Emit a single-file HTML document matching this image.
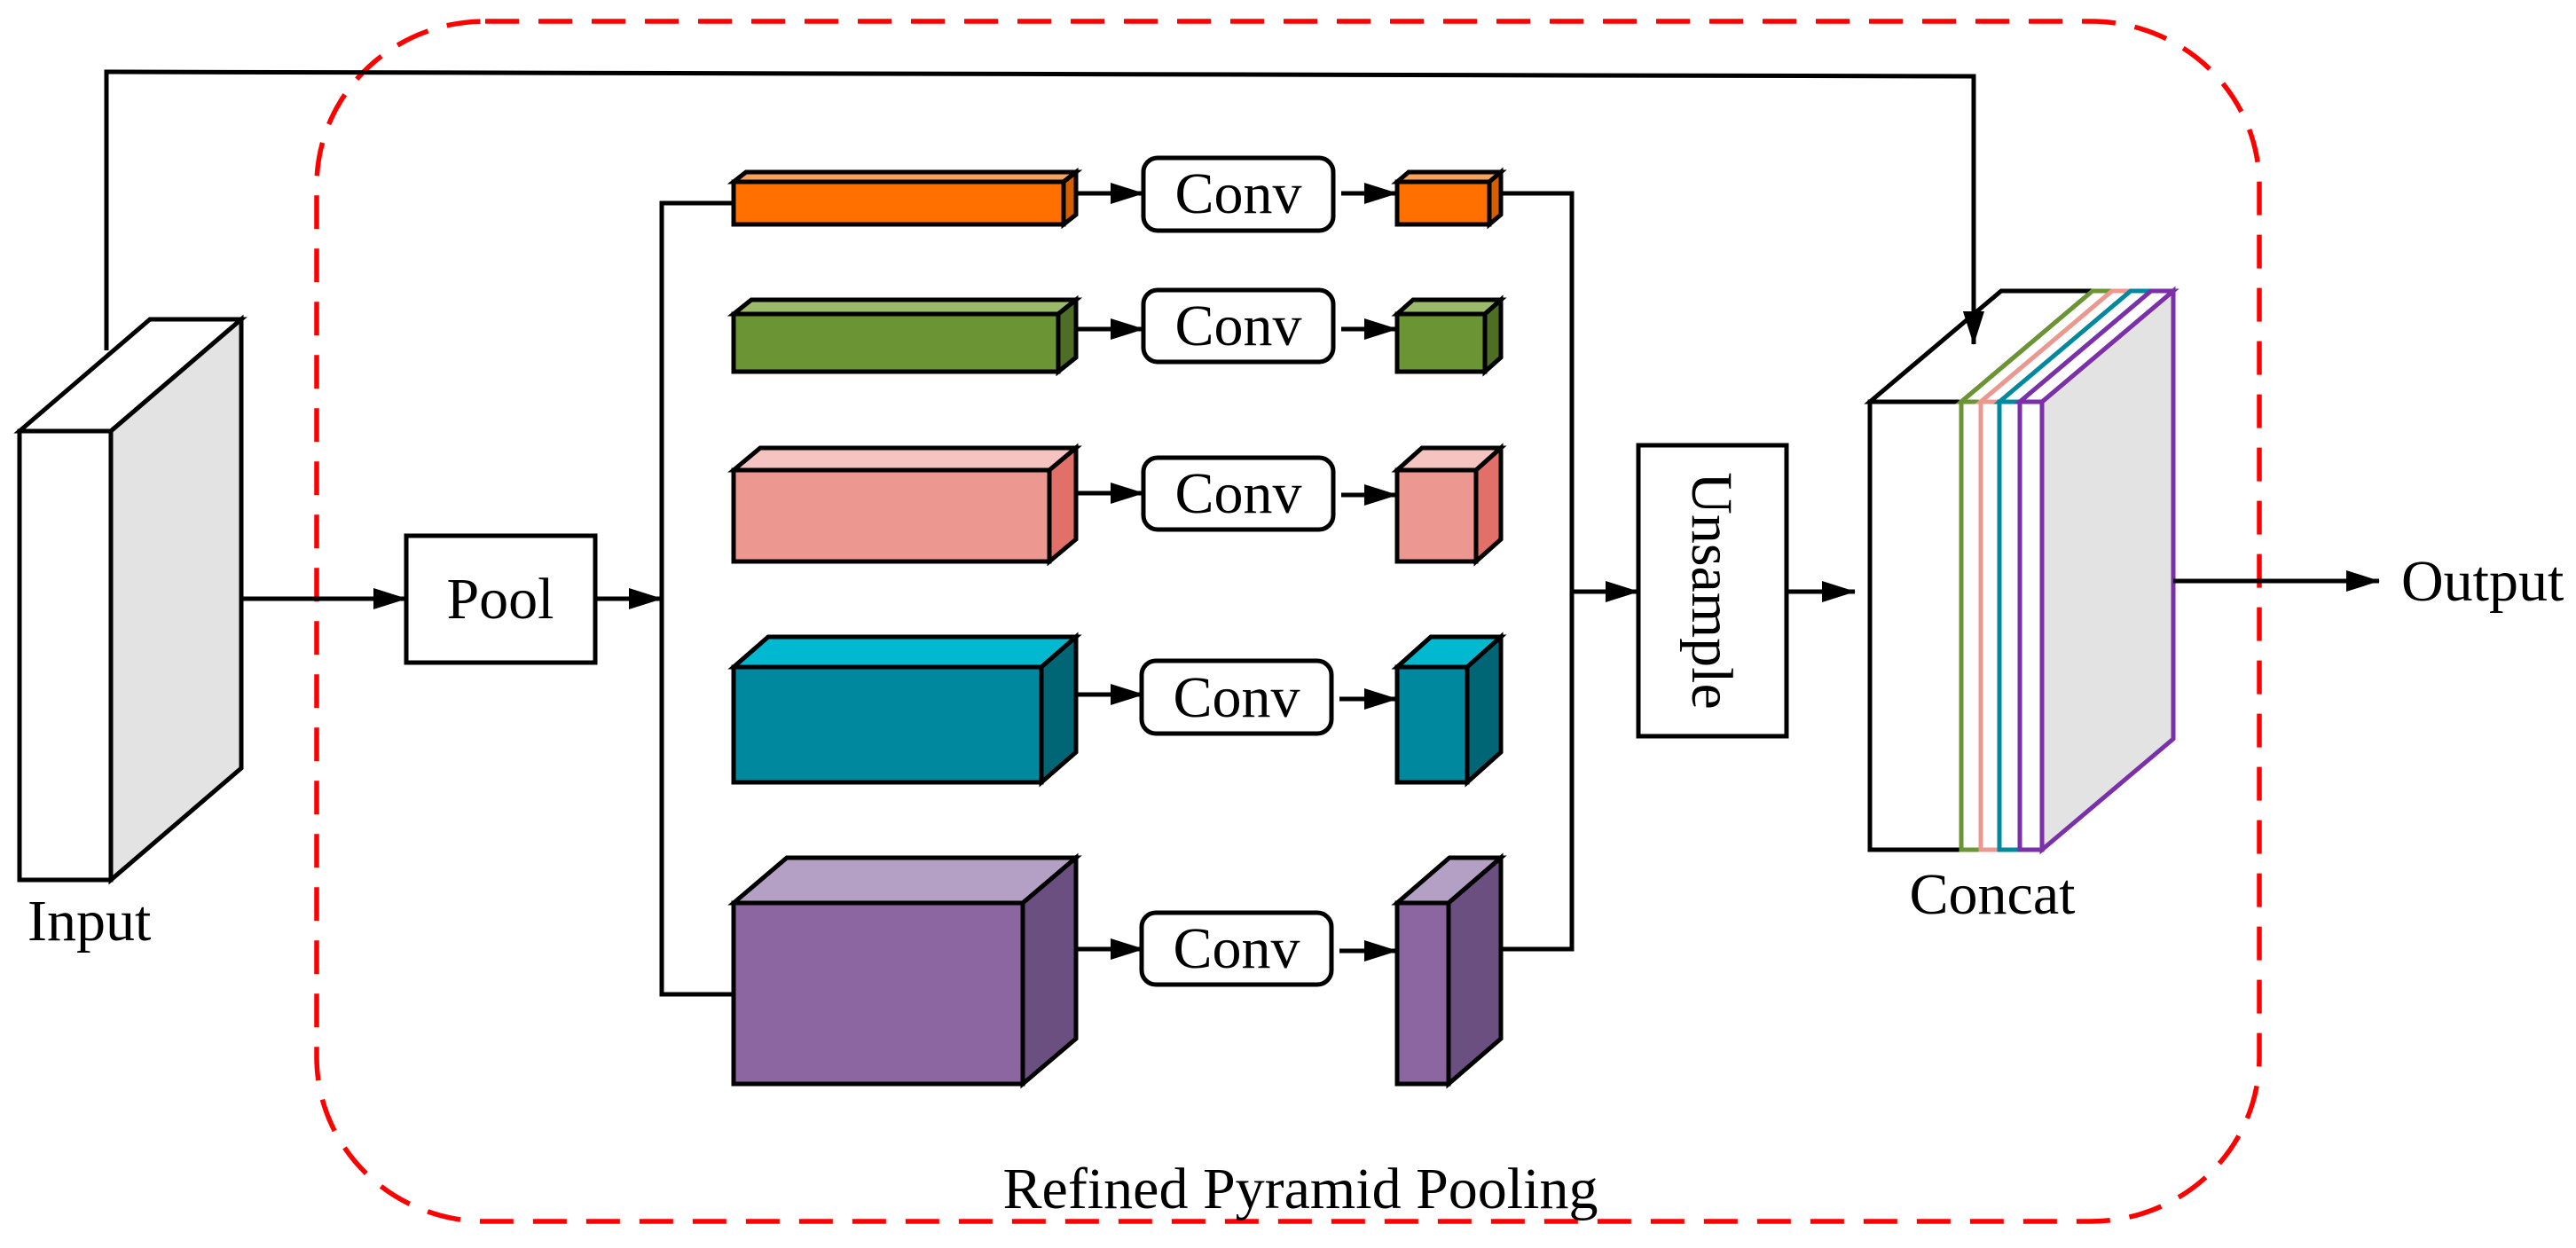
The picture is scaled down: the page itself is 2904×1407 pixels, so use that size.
<!DOCTYPE html>
<html><head><meta charset="utf-8"><style>
html,body{margin:0;padding:0;background:#fff;}
svg{display:block;}
text{font-family:"Liberation Serif",serif;fill:#000;}
</style></head><body>
<svg width="2904" height="1407" viewBox="0 0 2904 1407" xmlns="http://www.w3.org/2000/svg">
<defs>
<marker id="a" markerUnits="userSpaceOnUse" markerWidth="38" markerHeight="24" refX="37" refY="12" orient="auto">
<path d="M0,0 L38,12 L0,24 Z" fill="#000"/>
</marker>
</defs>
<rect width="2904" height="1407" fill="#fff"/>
<rect x="357" y="24" width="2190" height="1353" rx="190" ry="185" fill="none" stroke="#ff0000" stroke-width="5.5" stroke-dasharray="38,22"/>
<g stroke="#000" stroke-width="5" stroke-linejoin="miter">
<rect x="22" y="486" width="103" height="506" fill="#fff"/>
<polygon points="22,486 169,360 272,360 125,486" fill="#fff"/>
<polygon points="125,486 272,360 272,866 125,992" fill="#e3e3e3"/>
<polyline points="120,395 120,81 2225,86 2225,388" fill="none" marker-end="url(#a)"/>
<line x1="273" y1="675" x2="458" y2="675" marker-end="url(#a)"/>
<rect x="458" y="604" width="213" height="143" fill="#fff"/>
<line x1="671" y1="675" x2="746" y2="675" marker-end="url(#a)"/>
<polyline points="827,229 746,229 746,1121 827,1121" fill="none"/>
<rect x="827" y="205" width="372" height="48" fill="#ff7000"/>
<polygon points="827,205 841,194 1213,194 1199,205" fill="#f7a35c"/>
<polygon points="1199,205 1213,194 1213,242 1199,253" fill="#d55e00"/>
<rect x="827" y="354" width="366" height="65" fill="#6b9535"/>
<polygon points="827,354 847,338 1213,338 1193,354" fill="#9bbb6a"/>
<polygon points="1193,354 1213,338 1213,403 1193,419" fill="#4e6e26"/>
<rect x="827" y="530" width="356" height="103" fill="#ec9890"/>
<polygon points="827,530 857,505 1213,505 1183,530" fill="#f6c4c0"/>
<polygon points="1183,530 1213,505 1213,608 1183,633" fill="#e07068"/>
<rect x="827" y="752" width="347" height="130" fill="#00899e"/>
<polygon points="827,752 866,718 1213,718 1174,752" fill="#00b8d0"/>
<polygon points="1174,752 1213,718 1213,848 1174,882" fill="#006575"/>
<rect x="827" y="1018" width="326" height="204" fill="#8b66a0"/>
<polygon points="827,1018 887,967 1213,967 1153,1018" fill="#b3a0c4"/>
<polygon points="1153,1018 1213,967 1213,1171 1153,1222" fill="#6a4f80"/>
<line x1="1213" y1="218" x2="1289" y2="218" marker-end="url(#a)"/>
<line x1="1213" y1="371" x2="1289" y2="371" marker-end="url(#a)"/>
<line x1="1213" y1="556" x2="1289" y2="556" marker-end="url(#a)"/>
<line x1="1213" y1="783" x2="1289" y2="783" marker-end="url(#a)"/>
<line x1="1213" y1="1070" x2="1289" y2="1070" marker-end="url(#a)"/>
<rect x="1289" y="178" width="214" height="82" rx="16" fill="#fff"/>
<rect x="1289" y="327" width="214" height="81" rx="16" fill="#fff"/>
<rect x="1289" y="516" width="214" height="81" rx="16" fill="#fff"/>
<rect x="1287" y="745" width="214" height="82" rx="16" fill="#fff"/>
<rect x="1287" y="1029" width="214" height="81" rx="16" fill="#fff"/>
<line x1="1512" y1="218" x2="1575" y2="218" marker-end="url(#a)"/>
<line x1="1512" y1="371" x2="1575" y2="371" marker-end="url(#a)"/>
<line x1="1512" y1="558" x2="1575" y2="558" marker-end="url(#a)"/>
<line x1="1510" y1="788" x2="1575" y2="788" marker-end="url(#a)"/>
<line x1="1510" y1="1072" x2="1575" y2="1072" marker-end="url(#a)"/>
<rect x="1575" y="205" width="104" height="48" fill="#ff7000"/>
<polygon points="1575,205 1588,194 1692,194 1679,205" fill="#f7a35c"/>
<polygon points="1679,205 1692,194 1692,242 1679,253" fill="#d55e00"/>
<rect x="1575" y="354" width="99" height="65" fill="#6b9535"/>
<polygon points="1575,354 1593,338 1692,338 1674,354" fill="#9bbb6a"/>
<polygon points="1674,354 1692,338 1692,403 1674,419" fill="#4e6e26"/>
<rect x="1575" y="530" width="89" height="103" fill="#ec9890"/>
<polygon points="1575,530 1603,505 1692,505 1664,530" fill="#f6c4c0"/>
<polygon points="1664,530 1692,505 1692,608 1664,633" fill="#e07068"/>
<rect x="1575" y="752" width="79" height="130" fill="#00899e"/>
<polygon points="1575,752 1613,718 1692,718 1654,752" fill="#00b8d0"/>
<polygon points="1654,752 1692,718 1692,848 1654,882" fill="#006575"/>
<rect x="1575" y="1018" width="58" height="204" fill="#8b66a0"/>
<polygon points="1575,1018 1634,967 1692,967 1633,1018" fill="#b3a0c4"/>
<polygon points="1633,1018 1692,967 1692,1171 1633,1222" fill="#6a4f80"/>
<polyline points="1692,218 1772,218 1772,1070 1692,1070" fill="none"/>
<line x1="1772" y1="667" x2="1847" y2="667" marker-end="url(#a)"/>
<rect x="1847" y="502" width="167" height="328" fill="#fff"/>
<line x1="2016" y1="667" x2="2091" y2="667" marker-end="url(#a)"/>
<rect x="2108" y="453" width="103" height="505" fill="#fff"/>
<polygon points="2108,453 2256,328 2359,328 2211,453" fill="#fff"/>
<polygon points="2302,453 2450,328 2450,833 2302,958" fill="#e3e3e3" stroke="#7b2fa8"/>
<g fill="#fff">
<rect x="2211" y="453" width="22" height="505" stroke="#6b9535"/>
<polygon points="2211,453 2359,328 2381,328 2233,453" stroke="#6b9535"/>
<rect x="2233" y="453" width="21" height="505" stroke="#ec9890"/>
<polygon points="2233,453 2381,328 2402,328 2254,453" stroke="#ec9890"/>
<rect x="2254" y="453" width="23" height="505" stroke="#00899e"/>
<polygon points="2254,453 2402,328 2425,328 2277,453" stroke="#00899e"/>
<rect x="2277" y="453" width="25" height="505" stroke="#7b2fa8"/>
<polygon points="2277,453 2425,328 2450,328 2302,453" stroke="#7b2fa8"/>
</g>
<line x1="2450" y1="655" x2="2682" y2="655" marker-end="url(#a)"/>
</g>
<line x1="2225" y1="330" x2="2225" y2="388" stroke="#000" stroke-width="5" marker-end="url(#a)"/>
<g font-size="66">
<text x="31" y="1060">Input</text>
<text x="564" y="697" text-anchor="middle">Pool</text>
<text x="1396" y="240" text-anchor="middle">Conv</text>
<text x="1396" y="389" text-anchor="middle">Conv</text>
<text x="1396" y="578" text-anchor="middle">Conv</text>
<text x="1394" y="808" text-anchor="middle">Conv</text>
<text x="1394" y="1091" text-anchor="middle">Conv</text>
<text x="0" y="0" text-anchor="middle" transform="translate(1908,666) rotate(90)">Unsample</text>
<text x="2246" y="1030" text-anchor="middle">Concat</text>
<text x="2707" y="677">Output</text>
<text x="1466" y="1362" text-anchor="middle">Refined Pyramid Pooling</text>
</g>
</svg>
</body></html>
